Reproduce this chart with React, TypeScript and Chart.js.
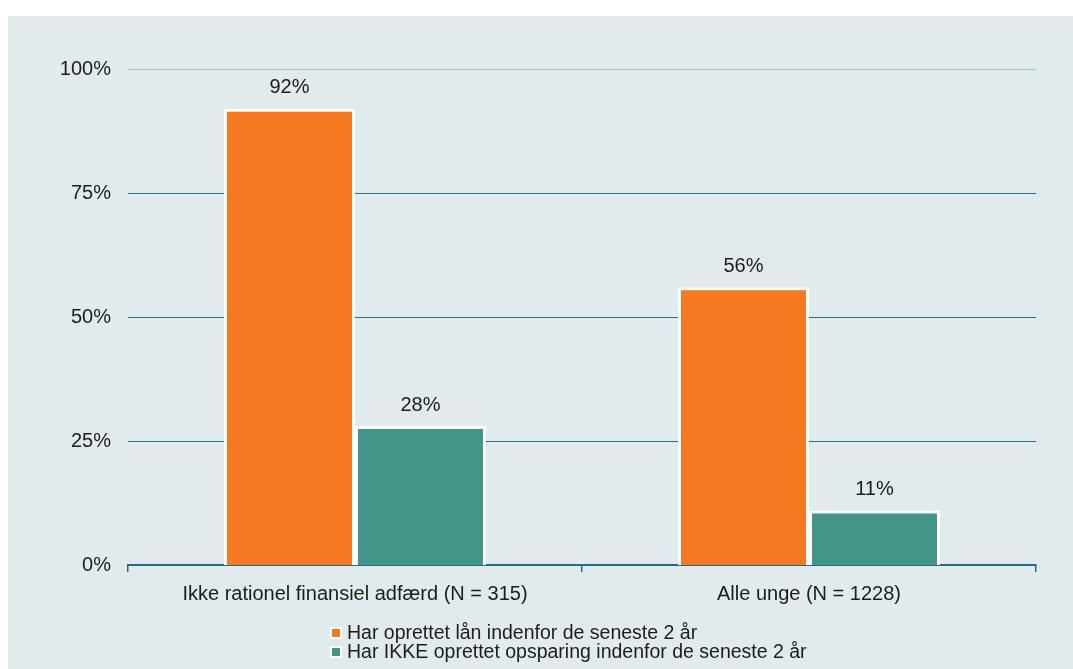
import React, { useEffect, useRef } from "react";
import { Chart, registerables } from "chart.js";

Chart.register(...registerables);

const categories = ["Ikke rationel finansiel adfærd (N = 315)", "Alle unge (N = 1228)"];
const seriesLabels = [
  "Har oprettet lån indenfor de seneste 2 år",
  "Har IKKE oprettet opsparing indenfor de seneste 2 år",
];
const loanValues = [92, 56];
const noSavingValues = [28, 11];
const yTicks = [0, 25, 50, 75, 100];

const ORANGE = "#f47920";
const TEAL = "#43958a";
const FONT = "'Liberation Sans', Arial, sans-serif";
const TEXT = "#1c1c1c";

const valueLabels = {
  id: "valueLabels",
  afterDatasetsDraw(chart: any) {
    const ctx = chart.ctx;
    ctx.save();
    ctx.font = `20px ${FONT}`;
    ctx.fillStyle = TEXT;
    ctx.textAlign = "center";
    ctx.textBaseline = "middle";
    chart.data.datasets.forEach((ds: any, i: number) => {
      const meta = chart.getDatasetMeta(i);
      meta.data.forEach((bar: any, j: number) => {
        ctx.fillText(`${ds.data[j]}%`, bar.x, bar.y - 21);
      });
    });
    ctx.restore();
  },
};

export default function App() {
  const canvasRef = useRef<HTMLCanvasElement>(null);

  useEffect(() => {
    if (!canvasRef.current) return;
    const chart = new Chart(canvasRef.current, {
      type: "bar",
      data: {
        labels: categories,
        datasets: [
          {
            label: seriesLabels[0],
            data: loanValues,
            backgroundColor: ORANGE,
            borderColor: "#ffffff",
            borderWidth: 3,
            borderSkipped: "bottom",
            categoryPercentage: 0.577,
            barPercentage: 1,
          },
          {
            label: seriesLabels[1],
            data: noSavingValues,
            backgroundColor: TEAL,
            borderColor: "#ffffff",
            borderWidth: 3,
            borderSkipped: "bottom",
            categoryPercentage: 0.577,
            barPercentage: 1,
          },
        ],
      },
      options: {
        animation: false,
        responsive: false,
        maintainAspectRatio: false,
        layout: { padding: { top: 53, right: 37, bottom: 0, left: 0 } },
        plugins: {
          legend: { display: false },
          tooltip: { enabled: false },
        },
        scales: {
          x: {
            offset: true,
            afterFit: (scale: any) => {
              scale.height = 104;
            },
            border: { display: true, color: "#1f6d8a", width: 2 },
            grid: {
              offset: true,
              drawOnChartArea: false,
              drawTicks: true,
              tickLength: 7,
              color: "#1f6d8a",
              lineWidth: 1.5,
            },
            ticks: {
              padding: 10,
              color: TEXT,
              font: { family: FONT, size: 20 },
            },
          },
          y: {
            min: 0,
            max: 100,
            afterFit: (scale: any) => {
              scale.width = 120;
            },
            afterBuildTicks: (scale: any) => {
              scale.ticks = yTicks.map((v) => ({ value: v }));
            },
            border: { display: false },
            grid: {
              drawTicks: false,
              lineWidth: (c: any) => (c.tick && c.tick.value === 0 ? 0 : 1),
              color: (c: any) =>
                c.tick && c.tick.value === 100 ? "#9fc2cf" : "#2a6f88",
            },
            ticks: {
              padding: 17,
              color: TEXT,
              font: { family: FONT, size: 20 },
              callback: (v: any) => `${v}%`,
            },
          },
        },
      },
      plugins: [valueLabels],
    });
    return () => chart.destroy();
  }, []);

  const box = (color: string) => (
    <span
      style={{
        display: "inline-block",
        width: 8,
        height: 8,
        border: "2px solid #ffffff",
        background: color,
        marginRight: 5,
        verticalAlign: "middle",
        position: "relative",
        top: -1,
      }}
    />
  );

  return (
    <div
      style={{
        position: "absolute",
        left: 8,
        top: 16,
        width: 1065,
        height: 653,
        background: "#e1eaed",
        overflow: "hidden",
      }}
    >
      <canvas ref={canvasRef} width={1065} height={653} style={{ display: "block" }} />
      <div
        style={{
          position: "absolute",
          left: 322,
          top: 607,
          fontFamily: FONT,
          fontSize: 19.5,
          lineHeight: "19px",
          color: TEXT,
          whiteSpace: "nowrap",
        }}
      >
        <div>
          {box(ORANGE)}
          {seriesLabels[0]}
        </div>
        <div>
          {box(TEAL)}
          {seriesLabels[1]}
        </div>
      </div>
    </div>
  );
}
